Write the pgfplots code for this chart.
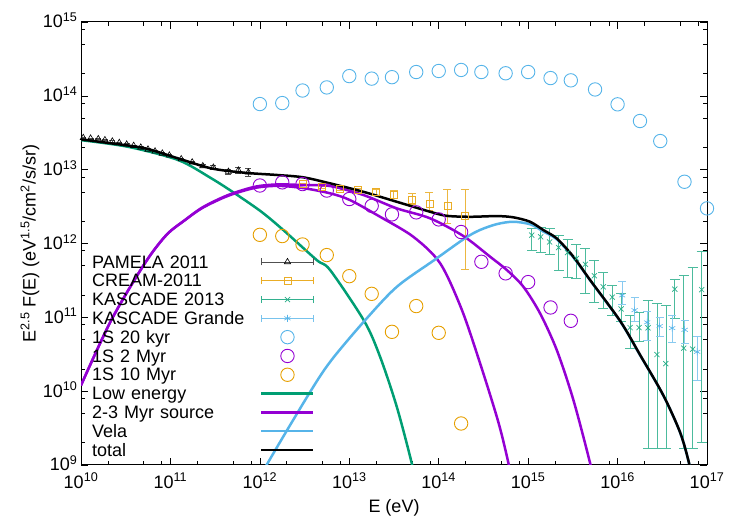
\documentclass[border=0pt]{standalone}
\usepackage{fontspec}
\setmainfont{Liberation Sans}
\usepackage{pgfplots}
\pgfplotsset{compat=1.18}

\definecolor{gpPurple}{HTML}{9400D3}
\definecolor{gpGreen}{HTML}{009E73}
\definecolor{gpSky}{HTML}{56B4E9}
\definecolor{gpOrange}{HTML}{E69F00}
\definecolor{gpGray}{HTML}{505050}

\newcommand\gpfont{\fontsize{18}{21}\selectfont}

\pgfplotsset{
  linelegend/.style={legend image code/.code={\draw[##1] (0pt,0pt) -- (52pt,0pt);}},
  marklegend/.style={legend image code/.code={\draw[##1] plot coordinates {(26pt,0pt)};}},
  errlegend/.style={legend image code/.code={%
      \draw[##1] (0pt,-3.5pt) -- (0pt,3.5pt) (0pt,0pt) -- (52pt,0pt) (52pt,-3.5pt) -- (52pt,3.5pt);
      \draw[##1] plot coordinates {(26pt,0pt)};}},
  model/.style={line width=2.5pt, smooth},
}

\begin{document}
\begin{tikzpicture}
\path[use as bounding box] (-81pt,-60pt) rectangle (669pt,465pt);
\begin{axis}[
  at={(0pt,0pt)}, anchor=south west,
  scale only axis, width=626pt, height=443pt,
  xmode=log, ymode=log,
  xmin=1e10, xmax=1e17, ymin=1e9, ymax=1e15,
  xtick={1e10,1e11,1e12,1e13,1e14,1e15,1e16,1e17},
  xticklabels={10\textsuperscript{10},10\textsuperscript{11},10\textsuperscript{12},10\textsuperscript{13},10\textsuperscript{14},10\textsuperscript{15},10\textsuperscript{16},10\textsuperscript{17}},
  ytick={1e9,1e10,1e11,1e12,1e13,1e14,1e15},
  yticklabels={10\textsuperscript{9},10\textsuperscript{10},10\textsuperscript{11},10\textsuperscript{12},10\textsuperscript{13},10\textsuperscript{14},10\textsuperscript{15}},
  minor xtick={2e10,5e10,8e10,2e11,5e11,8e11,2e12,5e12,8e12,2e13,5e13,8e13,2e14,5e14,8e14,2e15,5e15,8e15,2e16,5e16,8e16},
  minor ytick={2e9,5e9,8e9,2e10,5e10,8e10,2e11,5e11,8e11,2e12,5e12,8e12,2e13,5e13,8e13,2e14,5e14,8e14},
  tick align=inside,
  major tick length=7pt, minor tick length=4pt,
  tick style={black, line width=0.6pt},
  axis line style={line width=1pt},
  tick label style={font=\gpfont, inner ysep=0pt},
  xticklabel style={yshift=-8pt},
  yticklabel style={yshift=1.5pt},
  xlabel={E (eV)},
  ylabel={E\textsuperscript{2.5} F(E) (eV\textsuperscript{1.5}/cm\textsuperscript{2}/s/sr)},
  every axis x label/.style={at={(axis description cs:0.5,-0.097)}, anchor=center, font=\gpfont},
  every axis y label/.style={at={(axis description cs:-0.0815,0.5)}, anchor=center, rotate=90, font=\gpfont},
  legend cell align=left,
  legend plot pos=right,
  legend style={at={(axis description cs:0.0176,0.480)}, anchor=north west,
    draw=none, fill=none, inner sep=0pt, row sep=0pt, column sep=0pt, font=\gpfont,
    nodes={inner sep=0pt, text height=15.6pt, text depth=3.2pt, text width=168pt, align=left}},
]

% PAMELA 2011
\addplot[gpGray, line width=0.6pt, only marks, mark=triangle, mark size=3.6pt,
  mark options={black, line width=0.6pt}, errlegend,
  error bars/.cd, y dir=both, y explicit,
  error bar style={gpGray, line width=0.6pt},
  error mark options={rotate=90, gpGray, mark size=3pt, line width=0.6pt}]
coordinates {
(1.06e10,2.70e13) +- (0,0.05e13)
(1.28e10,2.65e13) +- (0,0.05e13)
(1.56e10,2.60e13) +- (0,0.05e13)
(1.85e10,2.52e13) +- (0,0.05e13)
(2.24e10,2.42e13) +- (0,0.05e13)
(2.68e10,2.31e13) +- (0,0.05e13)
(3.24e10,2.20e13) +- (0,0.05e13)
(3.88e10,2.11e13) +- (0,0.05e13)
(4.66e10,2.00e13) +- (0,0.05e13)
(5.61e10,1.88e13) +- (0,0.05e13)
(6.73e10,1.77e13) +- (0,0.05e13)
(8.11e10,1.66e13) +- (0,0.05e13)
(9.72e10,1.56e13) +- (0,0.05e13)
(1.32e11,1.39e13) +- (0,0.05e13)
(1.75e11,1.26e13) +- (0,0.05e13)
(2.30e11,1.12e13) +- (0,0.06e13)
(3.02e11,1.07e13) +- (0,0.07e13)
(4.45e11,9.4e12) +- (0,0.8e12)
(5.75e11,9.8e12) +- (0,1.0e12)
(7.43e11,9.2e12) +- (0,1.1e12)
};
\addlegendentry{PAMELA 2011}

% CREAM-2011
\addplot[gpOrange!85, line width=0.6pt, only marks, mark=square, mark size=3.5pt,
  mark options={gpOrange!85, line width=0.6pt}, errlegend,
  error bars/.cd, y dir=both, y explicit,
  error bar style={gpOrange!75, line width=0.6pt},
  error mark options={rotate=90, gpOrange!75, mark size=4pt, line width=0.6pt}]
coordinates {
(3.0e12,6.44e12) +- (0,0.15e12)
(4.9e12,5.81e12) +- (0,0.15e12)
(7.9e12,5.46e12) +- (0,0.2e12)
(1.25e13,5.34e12) +- (0,0.25e12)
(2.0e13,4.97e12) += (0,0.49e12) -= (0,0.5e12)
(3.13e13,4.62e12) += (0,0.56e12) -= (0,0.5e12)
(5.0e13,3.96e12) += (0,0.8e12) -= (0,0.6e12)
(7.87e13,3.45e12) += (0,1.41e12) -= (0,0.6e12)
(1.25e14,3.24e12) += (0,2.22e12) -= (0,1.37e12)
(1.97e14,2.37e12) += (0,3.09e12) -= (0,1.92e12)
};
\addlegendentry{CREAM-2011}

% KASCADE 2013
\addplot[gpGreen!80, line width=0.7pt, only marks, mark=x, mark size=3.6pt,
  mark options={gpGreen!85, line width=0.7pt}, errlegend,
  error bars/.cd, y dir=both, y explicit,
  error bar style={gpGreen!70, line width=0.7pt},
  error mark options={rotate=90, gpGreen!70, mark size=5pt, line width=0.7pt}]
coordinates {
(1.096e15,1.30e12) += (0,0.30e12) -= (0,0.485e12)
(1.380e15,1.23e12) += (0,0.45e12) -= (0,0.47e12)
(1.738e15,1.05e12) += (0,0.55e12) -= (0,0.34e12)
(2.188e15,8.81e11) += (0,4.2e11) -= (0,4.5e11)
(2.754e15,7.53e11) += (0,4.0e11) -= (0,4.0e11)
(3.467e15,6.28e11) += (0,3.45e11) -= (0,2.9e11)
(4.365e15,5.22e11) += (0,3.4e11) -= (0,3.1e11)
(5.495e15,3.65e11) += (0,2.31e11) -= (0,2.06e11)
(6.918e15,2.59e11) += (0,1.47e11) -= (0,1.27e11)
(8.710e15,1.88e11) += (0,0.85e11) -= (0,0.81e11)
(1.096e16,1.30e11) += (0,0.83e11) -= (0,0.43e11)
(1.380e16,7.26e10) += (0,3.4e10) -= (0,3.4e10)
(1.738e16,7.26e10) += (0,4.6e10) -= (0,2.6e10)
(2.188e16,7.21e10) += (0,9.9e10) -= (0,7.04e10)
(2.754e16,3.13e10) += (0,1.23e11) -= (0,2.96e10)
(3.467e16,2.36e10) += (0,1.22e11) -= (0,2.19e10)
(4.365e16,2.41e11) += (0,0.88e11) -= (0,1.44e11)
(5.495e16,3.83e10) += (0,3.27e11) -= (0,3.66e10)
(6.918e16,3.71e10) += (0,4.32e11) -= (0,3.54e10)
(8.710e16,2.37e11) += (0,5.52e11) -= (0,2.35e11)
};
\addlegendentry{KASCADE 2013}

% KASCADE Grande
\addplot[gpSky!80, line width=0.6pt, only marks, mark=asterisk, mark size=3.6pt,
  mark options={gpSky, line width=0.6pt}, errlegend,
  error bars/.cd, y dir=both, y explicit,
  error bar style={gpSky!70, line width=0.6pt},
  error mark options={rotate=90, gpSky!70, mark size=4pt, line width=0.6pt}]
coordinates {
(1.122e16,1.98e11) += (0,1.11e11) -= (0,0.48e11)
(1.549e16,1.25e11) += (0,5.9e10) -= (0,3.6e10)
(2.138e16,8.55e10) += (0,3.35e10) -= (0,3.64e10)
(2.951e16,7.6e10) += (0,2.5e10) -= (0,2.0e10)
(4.074e16,7.14e10) += (0,3.6e10) -= (0,2.5e10)
(5.623e16,6.78e10) += (0,2.4e10) -= (0,2.35e10)
(7.762e16,3.41e10) += (0,2.04e10) -= (0,2.0e10)
};
\addlegendentry{KASCADE Grande}

% single-source spectra at three ages
\addplot[gpSky, only marks, mark=o, mark size=6.7pt, mark options={line width=0.9pt}, marklegend]
coordinates {
(1e12,7.74e13) (1.78e12,7.98e13) (3e12,1.18e14) (5.6e12,1.30e14)
(1e13,1.85e14) (1.78e13,1.71e14) (3e13,1.79e14) (5.6e13,2.10e14)
(1e14,2.17e14) (1.78e14,2.24e14) (3e14,2.10e14) (5.6e14,2.02e14)
(1e15,2.10e14) (1.78e15,1.74e14) (3e15,1.62e14) (5.6e15,1.22e14)
(1e16,7.67e13) (1.78e16,4.56e13) (3e16,2.44e13) (5.6e16,6.86e12)
(1e17,2.99e12)
};
\addlegendentry{1S 20 kyr}

\addplot[gpPurple, only marks, mark=o, mark size=6.7pt, mark options={line width=0.9pt}, marklegend]
coordinates {
(1e12,6.1e12) (1.78e12,6.73e12) (3e12,6.38e12) (5.6e12,5.21e12)
(1e13,4.0e12) (1.78e13,3.23e12) (3e13,2.48e12) (5.6e13,2.64e12)
(1e14,2.12e12) (1.78e14,1.43e12) (3e14,5.65e11) (5.6e14,3.94e11)
(1e15,3.0e11) (1.78e15,1.36e11) (3e15,8.97e10)
};
\addlegendentry{1S 2 Myr}

\addplot[gpOrange, only marks, mark=o, mark size=6.7pt, mark options={line width=0.9pt}, marklegend]
coordinates {
(1e12,1.31e12) (1.78e12,1.26e12) (3e12,9.7e11) (5.6e12,6.97e11)
(1e13,3.61e11) (1.78e13,2.08e11) (3e13,6.36e10) (5.6e13,1.42e11)
(1e14,6.17e10) (1.78e14,3.65e9)
};
\addlegendentry{1S 10 Myr}

% model components
\addplot[gpGreen, model, linelegend]
coordinates {
(1e10,2.51e13) (3.36e10,2.04e13) (1.22e11,1.35e13) (2.87e11,7.62e12)
(5.24e11,4.78e12) (1.04e12,2.69e12) (1.83e12,1.52e12) (4.33e12,5.96e11)
(6.10e12,4.37e11) (1.47e13,8.89e10) (2.21e13,2.92e10) (3.40e13,6.12e9)
(5.0e13,1.05e9) (5.62e13,5e8)
};
\addlegendentry{Low energy}

\addplot[gpPurple, model, linelegend]
coordinates {
(1e10,1.2e10) (2.18e10,9.16e10) (5.16e10,5.37e11) (8.99e10,1.30e12)
(1.45e11,2.07e12) (2.3e11,3.1e12) (4.41e11,4.53e12) (8.77e11,5.86e12)
(1.60e12,6.32e12) (3.04e12,6.18e12) (6.10e12,6.0e12) (1.44e13,4.53e12)
(3.40e13,2.99e12) (8.02e13,2.19e12) (1.89e14,1.26e12)
(3.76e14,6.61e11) (5.78e14,4.37e11) (8.85e14,2.59e11) (1.36e15,1.13e11)
(2.09e15,3.6e10) (3.21e15,7.55e9) (4.94e15,1.05e9) (5.62e15,5e8)
};
\addlegendentry{2-3 Myr source}

\addplot[gpPurple, model, forget plot]
coordinates {
(1e10,1.2e10) (2.18e10,9.16e10) (5.16e10,5.37e11) (8.99e10,1.30e12)
(1.45e11,2.07e12) (2.3e11,3.05e12) (4.41e11,4.42e12) (8.77e11,5.65e12)
(1.60e12,6.03e12) (3.07e12,5.62e12) (6.10e12,4.78e12) (1.02e13,3.87e12)
(2.21e13,2.30e12) (5.21e13,1.23e12) (1.04e14,5.37e11)
(1.82e14,1.25e11) (3.02e14,2.05e10) (4.68e14,3.68e9) (6.03e14,1.05e9)
(6.76e14,5e8)
};

\addplot[gpSky, model, linelegend]
coordinates {
(1.07e12,7e8) (1.19e12,1e9) (3.65e12,9.77e9) (6.31e12,2.63e10)
(1.50e13,9.12e10) (3.40e13,2.59e11) (8.91e13,5.96e11) (1.95e14,1.17e12)
(2.88e14,1.52e12) (4.47e14,1.83e12) (6.85e14,1.97e12) (1.07e15,1.81e12)
(1.48e15,1.45e12) (2.09e15,1.14e12) (3.21e15,6.46e11) (4.94e15,3.16e11)
(1.07e16,8.81e10) (1.79e16,3.05e10) (3.24e16,8.77e9) (5.01e16,2.74e9)
(6.31e16,1.04e9) (7.08e16,5e8)
};
\addlegendentry{Vela}

\addplot[black, model, linelegend]
coordinates {
(1e10,2.57e13) (2.18e10,2.27e13) (5.16e10,1.95e13) (1.22e11,1.42e13)
(2.87e11,1.04e13) (6.78e11,9.08e12) (1.60e12,8.45e12) (3.07e12,7.87e12)
(6.10e12,6.52e12) (1.44e13,5.01e12) (3.40e13,3.67e12) (8.02e13,2.69e12)
(1.23e14,2.37e12) (2.24e14,2.30e12) (4.47e14,2.35e12) (6.85e14,2.26e12)
(1.05e15,1.97e12) (1.48e15,1.52e12) (2.09e15,1.17e12) (3.21e15,6.61e11)
(4.94e15,3.19e11) (1.07e16,8.91e10) (1.79e16,3.08e10) (3.24e16,8.83e9)
(5.01e16,2.75e9) (6.31e16,1.05e9) (7.08e16,5e8)
};
\addlegendentry{total}

\end{axis}
\end{tikzpicture}
\end{document}
